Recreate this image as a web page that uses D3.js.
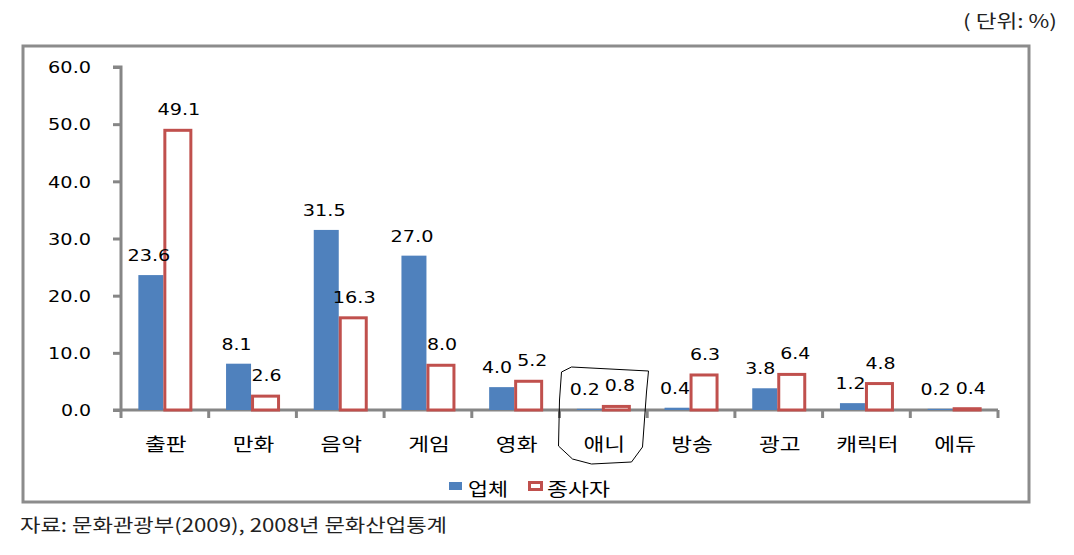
<!DOCTYPE html>
<html>
<head>
<meta charset="utf-8">
<script src="https://d3js.org/d3.v7.min.js"></script>
<style>
  body { margin: 0; background: #fff; }
  text { font-family: "DejaVu Sans", Verdana, sans-serif; }
  .kr { font-family: "Noto Sans CJK KR", sans-serif; }
</style>
</head>
<body>
<svg id="chart" width="1074" height="555"></svg>
<script>
// chart data
const categories = ["출판", "만화", "음악", "게임", "영화", "애니", "방송", "광고", "캐릭터", "에듀"];
const firms = [23.6, 8.1, 31.5, 27.0, 4.0, 0.2, 0.4, 3.8, 1.2, 0.2];
const workers = [49.1, 2.6, 16.3, 8.0, 5.2, 0.8, 6.3, 6.4, 4.8, 0.4];
const yTicks = [0, 10, 20, 30, 40, 50, 60];
const seriesNames = ["업체", "종사자"];

const blue = "#4f81bd";
const red = "#c0504d";

// the original text looks stretched sideways, so widths are fixed per string
const numWidth = s => s.replace(".", "").length * 12.8 + 4.5;
const krWidth = s => s.length * 20.8;

const svg = d3.select("#chart");

// outer frame
svg.append("rect")
  .attr("x", 23).attr("y", 46)
  .attr("width", 1006).attr("height", 456)
  .attr("fill", "none")
  .attr("stroke", "#8c8c8c")
  .attr("stroke-width", 3);

// unit note
svg.append("text")
  .attr("class", "kr")
  .attr("x", 963).attr("y", 28)
  .attr("textLength", 94)
  .attr("lengthAdjust", "spacingAndGlyphs")
  .attr("font-size", 18)
  .attr("fill", "#222")
  .text("( 단위:  %)");

// source note
svg.append("text")
  .attr("class", "kr")
  .attr("x", 20).attr("y", 532)
  .attr("textLength", 427)
  .attr("lengthAdjust", "spacingAndGlyphs")
  .attr("font-size", 18)
  .attr("fill", "#222")
  .text("자료:  문화관광부(2009),  2008년  문화산업통계");

const x0 = 121, x1 = 998;
const yBottom = 410, yTop = 67;

const x = d3.scaleBand().domain(categories).range([x0, x1]).paddingInner(0).paddingOuter(0);
const y = d3.scaleLinear().domain([0, 60]).range([yBottom, yTop]);
const mid = c => x(c) + x.bandwidth() / 2;

// y axis
const yAxis = svg.append("g").attr("transform", `translate(${x0},0)`)
  .call(d3.axisLeft(y).tickValues(yTicks).tickSize(8).tickFormat(d3.format(".1f")));
yAxis.select(".domain").attr("stroke", "#868686").attr("stroke-width", 3).attr("d", `M-8,${yTop}H0V${yBottom}`);
yAxis.selectAll(".tick line").attr("stroke", "#868686").attr("stroke-width", 3);
yAxis.selectAll(".tick text")
  .attr("x", -30)
  .attr("dy", "0.36em")
  .attr("text-anchor", "end")
  .attr("font-size", 16)
  .attr("textLength", d => numWidth(d3.format(".1f")(d)))
  .attr("lengthAdjust", "spacingAndGlyphs")
  .attr("font-family", "DejaVu Sans")
  .attr("fill", "#000");

// x axis
const xAxis = svg.append("g").attr("transform", `translate(0,${yBottom})`);
xAxis.append("line")
  .attr("x1", x0 - 8).attr("x2", x1)
  .attr("stroke", "#868686").attr("stroke-width", 3);
xAxis.selectAll("line.tk")
  .data(categories.map((c, i) => x0 + i * x.bandwidth()).concat([x1]))
  .join("line")
  .attr("class", "tk")
  .attr("x1", d => d).attr("x2", d => d)
  .attr("y1", 0).attr("y2", 8)
  .attr("stroke", "#868686").attr("stroke-width", 3);
xAxis.selectAll("text.cat")
  .data(categories)
  .join("text")
  .attr("class", "cat kr")
  .attr("x", d => mid(d) + 1 - krWidth(d) / 2)
  .attr("y", 41)
  .attr("font-size", 18)
  .attr("textLength", d => krWidth(d))
  .attr("lengthAdjust", "spacingAndGlyphs")
  .attr("fill", "#000")
  .text(d => d);

// bars
const barW = 25;
const bars = svg.append("g");
bars.selectAll("rect.firm")
  .data(firms)
  .join("rect")
  .attr("class", "firm")
  .attr("x", (d, i) => mid(categories[i]) - barW - 1.5)
  .attr("y", d => y(d))
  .attr("width", barW)
  .attr("height", d => yBottom - y(d))
  .attr("fill", blue);

bars.selectAll("rect.worker")
  .data(workers)
  .join("rect")
  .attr("class", "worker")
  .attr("x", (d, i) => mid(categories[i]))
  .attr("y", d => y(d) + 1)
  .attr("width", 26)
  .attr("height", d => Math.max(0, yBottom - y(d) - 1))
  .attr("fill", "#fff")
  .attr("stroke", red)
  .attr("stroke-width", 3);

// value labels: centred over the bars, pushed apart when they would touch
const labelPos = categories.map((c, i) => {
  const wa = numWidth(firms[i].toFixed(1)), wb = numWidth(workers[i].toFixed(1));
  let a = mid(c) - 16 - wa / 2, b = mid(c) + 14 - wb / 2;
  const sameRow = Math.abs(y(firms[i]) - y(workers[i])) < 16;
  const gap = b - (a + wa);
  if (sameRow && gap < 5) { a -= (5 - gap) / 2; b += (5 - gap) / 2; }
  return [a, b];
});

function valueLabels(cls, values, k) {
  svg.append("g").selectAll("text." + cls)
    .data(values)
    .join("text")
    .attr("class", cls)
    .attr("x", (d, i) => labelPos[i][k])
    .attr("y", d => y(d) - 14)
    .attr("font-size", 16)
    .attr("textLength", d => numWidth(d.toFixed(1)))
    .attr("lengthAdjust", "spacingAndGlyphs")
    .attr("fill", "#000")
    .text(d => d.toFixed(1));
}
valueLabels("firmv", firms, 0);
valueLabels("workv", workers, 1);

// hand drawn circle around 애니
const ax = x("애니");
const loop = d3.line().curve(d3.curveLinearClosed);
svg.append("path")
  .attr("d", loop([
    [ax + 2, 372], [ax + 12, 367], [ax + 89, 371], [ax + 87, 392],
    [ax + 83, 447], [ax + 72, 462], [ax + 32, 464], [ax + 13, 459],
    [ax - 1, 446], [ax, 400]
  ]))
  .attr("fill", "none")
  .attr("stroke", "#000")
  .attr("stroke-width", 1);

// legend
const legend = svg.append("g").attr("transform", "translate(449,482)");
legend.append("rect").attr("x", 0).attr("y", 0).attr("width", 13).attr("height", 8).attr("fill", blue);
legend.append("text").attr("class", "kr").attr("x", 19).attr("y", 14)
  .attr("font-size", 18).attr("textLength", 40).attr("lengthAdjust", "spacingAndGlyphs")
  .attr("fill", "#000").text(seriesNames[0]);
legend.append("rect").attr("x", 80.5).attr("y", 0.5).attr("width", 12).attr("height", 7)
  .attr("fill", "#fff").attr("stroke", red).attr("stroke-width", 3);
legend.append("text").attr("class", "kr").attr("x", 98).attr("y", 14)
  .attr("font-size", 18).attr("textLength", 63).attr("lengthAdjust", "spacingAndGlyphs")
  .attr("fill", "#000").text(seriesNames[1]);
</script>
</body>
</html>
